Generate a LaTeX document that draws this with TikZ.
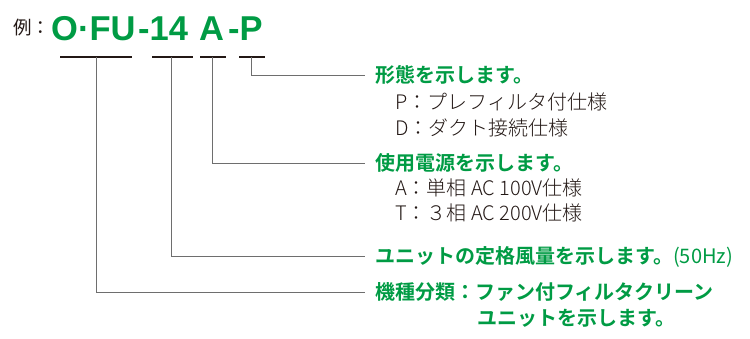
\documentclass[tikz,border=0pt]{standalone}
\usepackage{fontspec}
\newfontfamily\jp{Noto Sans CJK JP Light}
\newfontfamily\jpm{Noto Sans CJK JP}
\newfontfamily\jpb{Noto Sans CJK JP Bold}
\newfontfamily\lat{Liberation Sans}
\definecolor{grn}{RGB}{0,155,68}
\definecolor{ink}{RGB}{35,24,21}
\definecolor{conn}{RGB}{110,110,110}
\tikzset{
  head/.style={anchor=base west, inner sep=0pt, text=grn, font=\jpb\fontsize{20}{24}\selectfont},
  item/.style={anchor=base west, inner sep=0pt, text=ink, font=\jp\fontsize{20}{24}\selectfont},
  big/.style={anchor=base west, inner sep=0pt, text=grn, font=\lat\bfseries\fontsize{34.5}{36}\selectfont},
  uline/.style={draw=ink, line width=2.6pt},
  conline/.style={draw=conn, line width=0.9pt}
}
\begin{document}
\begin{tikzpicture}[x=1pt,y=-1pt]
\useasboundingbox (0,0) rectangle (750,338);
% example label
\node[anchor=base west, inner sep=0pt, text=ink, font=\jpm\fontsize{18.5}{20}\selectfont] (ex) at (13,34) {例：};
\node[big] (c1) at (51,40) {O·FU};
\node[big] (c2) at (138,40) {-14};
\node[big] (c3) at (199,40) {A};
\node[big] (c4) at (228,40) {-P};
% underlines
\coordinate (u1a) at (60,57);  \coordinate (u1b) at (132,57);
\coordinate (u2a) at (152,57); \coordinate (u2b) at (193,57);
\coordinate (u3a) at (200,57); \coordinate (u3b) at (226,57);
\coordinate (u4a) at (239,57); \coordinate (u4b) at (265,57);
\draw[uline] (u1a) -- (u1b);
\draw[uline] (u2a) -- (u2b);
\draw[uline] (u3a) -- (u3b);
\draw[uline] (u4a) -- (u4b);
% stems and ends
\coordinate (s1) at (96,57);  \coordinate (e1) at (365,292);
\coordinate (s2) at (171,57); \coordinate (e2) at (365,256);
\coordinate (s3) at (212,57); \coordinate (e3) at (365,163);
\coordinate (s4) at (251,57); \coordinate (e4) at (365,75);
\draw[conline] (s4) |- (e4);
\draw[conline] (s3) |- (e3);
\draw[conline] (s2) |- (e2);
\draw[conline] (s1) |- (e1);
% texts
\node[head] (h4) at (375,82.6) {形態を示します。};
\node[item] (p4a) at (395,109.6) {P：プレフィルタ付仕様};
\node[item] (p4b) at (395,135.6) {D：ダクト接続仕様};
\node[head] (h3) at (375,170.6) {使用電源を示します。};
\node[item] (p3a) at (395,195.6) {A：単相 AC 100V仕様};
\node[item] (p3b) at (395,220.6) {T：３相 AC 200V仕様};
\node[head] (h2) at (375,263.6) {ユニットの定格風量を示します。{\jpm(50Hz)}};
\node[head] (h1) at (375,299.6) {機種分類：ファン付フィルタクリーン};
\node[head] (h1b) at (477,325.6) {ユニットを示します。};
\end{tikzpicture}
\end{document}
